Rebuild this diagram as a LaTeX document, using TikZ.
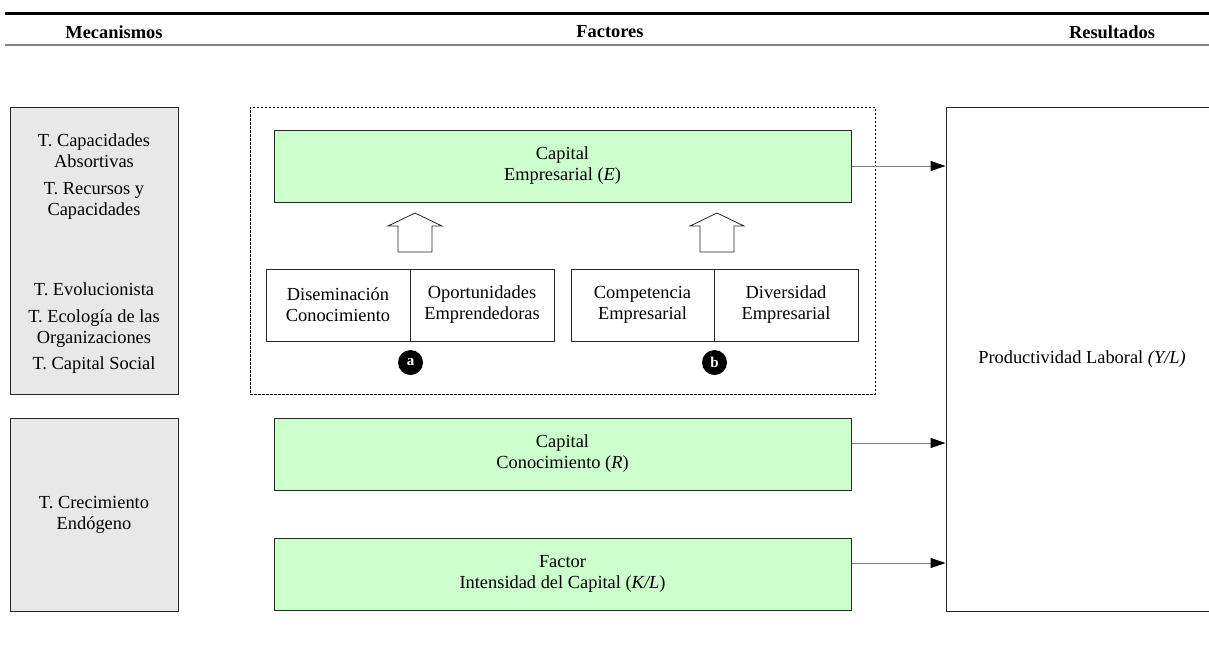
\documentclass[tikz,border=0pt]{standalone}
\usepackage{fontspec}
\setmainfont{Liberation Serif}
\usetikzlibrary{arrows.meta}
\definecolor{verde}{HTML}{CCFFCC}
\definecolor{gris}{HTML}{E8E8E8}
\begin{document}
\begin{tikzpicture}[x=1pt,y=-1pt,font=\fontsize{18.4}{21}\selectfont,
  caja/.style={draw=black!85,line width=1pt,inner sep=0pt,align=center},
  verdebox/.style={caja,fill=verde,minimum width=577,minimum height=72},
  grisbox/.style={caja,fill=gris,minimum width=168},
  parte/.style={caja,fill=white,minimum height=72},
  flecha/.style={draw=black!50,line width=1pt,-{Triangle[length=15pt,width=10pt,black]}},
  marca/.style={circle,fill=black,text=white,inner sep=0pt,minimum size=25,font=\fontsize{15}{15}\selectfont\bfseries},
  titulo/.style={font=\fontsize{18.4}{21}\selectfont\bfseries}]
\useasboundingbox (0,0) rectangle (1209,654);
\draw[line width=3pt] (5,13) -- (1209,13);
\draw[black!50,line width=1.2pt] (5,45) -- (1209,45);
\node[titulo] (hMec) at (114,32) {Mecanismos};
\node[titulo] (hFac) at (610,32) {Factores};
\node[titulo] (hRes) at (1112,32) {Resultados};

\node[grisbox,minimum height=287] (mecA) at (94,250.5) {};
\node[align=center] (teoA) at (94,176.5) {T. Capacidades\\Absortivas\\[6pt]T. Recursos y\\Capacidades};
\node[align=center] (teoB) at (94,328.5) {T. Evolucionista\\[6pt]T. Ecología de las\\Organizaciones\\[5pt]T. Capital Social};
\node[grisbox,minimum height=193] (mecB) at (94,514.5) {T. Crecimiento\\Endógeno};

\node[caja,draw=black,line width=0.8pt,dash pattern=on 2.5pt off 1.5pt,minimum width=625,minimum height=287] (grupo) at (562.5,250.5) {};
\node[verdebox] (capE) at (562.5,166) {Capital\\Empresarial (\textit{E})};
\node[parte,minimum width=144] (disem) at (338,305) {Diseminación\\Conocimiento};
\node[parte,minimum width=144] (oport) at (482,305) {Oportunidades\\Emprendedoras};
\node[parte,minimum width=143] (compe) at (642.5,305) {Competencia\\Empresarial};
\node[parte,minimum width=144] (diver) at (786,305) {Diversidad\\Empresarial};
\node[marca] (markA) at ([yshift=-21pt]disem.south east) {a};
\node[marca] (markB) at ([yshift=-21pt]compe.south east) {b};
\foreach \x in {415,717}
\draw[black!85,fill=white,line width=0.8pt] (\x-17,252) -- (\x-17,226) -- (\x-27,226) -- (\x,213) -- (\x+27,226) -- (\x+17,226) -- (\x+17,252) -- cycle;

\node[verdebox] (capR) at (562.5,454) {Capital\\Conocimiento (\textit{R})};
\node[verdebox] (capK) at (562.5,574) {Factor\\Intensidad del Capital (\textit{K/L})};

\node[caja,minimum width=272,minimum height=504] (prod) at (1082,359) {Productividad Laboral \textit{(Y/L)}};

\draw[flecha] (capE.east) -- (capE.east -| prod.west);
\draw[flecha] ([yshift=11pt]capR.east) -- ([yshift=11pt]capR.east -| prod.west);
\draw[flecha] ([yshift=11pt]capK.east) -- ([yshift=11pt]capK.east -| prod.west);
\end{tikzpicture}
\end{document}
